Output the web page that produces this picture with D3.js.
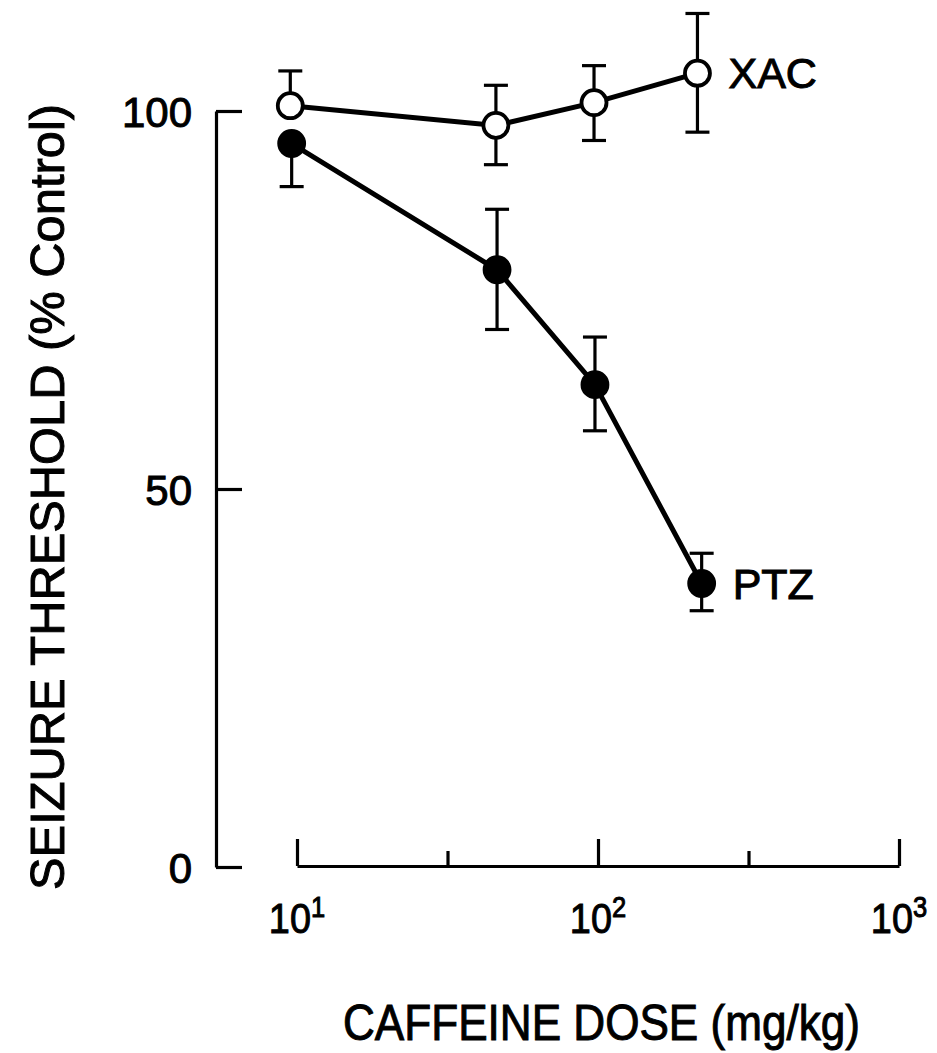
<!DOCTYPE html>
<html>
<head>
<meta charset="utf-8">
<script src="https://cdn.jsdelivr.net/npm/d3@7"></script>
<style>
  body { margin: 0; background: #fff; }
  svg text { font-family: "Liberation Sans", Arial, Helvetica, sans-serif; fill: #000; stroke: #000; stroke-width: 1; }
</style>
</head>
<body>
<div id="main"></div>
<script>
const ctx = {
    w: 937,
    h: 1053
};

// values
const xacDose = [9.5, 45.8, 97, 214];
const xacMean = [100.7, 98.1, 101.1, 105.0];
const xacErrUp = [4.6, 5.3, 4.9, 7.9];
const xacErrDown = [0, 5.2, 5.0, 7.8];

const ptzDose = [9.6, 46.2, 97.7, 221];
const ptzMean = [95.7, 79.0, 63.8, 37.5];
const ptzErrUp = [0, 8.0, 6.3, 4.0];
const ptzErrDown = [5.7, 7.9, 6.1, 3.6];

const yTicks = [0, 50, 100];
const xMajor = [10, 100, 1000];
const xMinor = [Math.pow(10, 1.5), Math.pow(10, 2.5)];
const xTickExp = ["1", "2", "3"];

function series(doses, means, up, down) {
    return doses.map((d, i) => ({ dose: d, mean: means[i], up: up[i], down: down[i] }));
}

function createViz() {
    const svgEl = d3.select("#main").append("svg")
        .attr("width", ctx.w)
        .attr("height", ctx.h);
    const rootG = svgEl.append("g").attr("id", "rootG");

    const x = d3.scaleLog().domain([10, 1000]).range([297, 899]);
    const y = d3.scaleLinear().domain([0, 100]).range([867, 111]);

    // y axis, ticks point inward
    const yAxis = rootG.append("g")
        .attr("transform", "translate(216,0)")
        .call(d3.axisLeft(y).tickValues(yTicks).tickSizeInner(-26).tickSizeOuter(0).tickPadding(24));
    yAxis.selectAll("path, line").attr("stroke", "#000").attr("stroke-width", 3.2);
    yAxis.selectAll("text").attr("font-size", 42).attr("dy", "0.36em")
        .attr("font-family", "Liberation Sans, Arial, sans-serif")
        .attr("stroke", "#000").attr("stroke-width", 1);

    // x axis (log), starts at 10^1
    const xAxis = rootG.append("g")
        .attr("transform", "translate(0,866)")
        .call(d3.axisBottom(x).tickValues(xMajor).tickSizeInner(-27).tickSizeOuter(0).tickFormat(() => ""));
    xAxis.selectAll("path, line").attr("stroke", "#000").attr("stroke-width", 3.2);

    const xMinorAxis = rootG.append("g")
        .attr("transform", "translate(0,866)")
        .call(d3.axisBottom(x).tickValues(xMinor).tickSizeInner(-15).tickSizeOuter(0).tickFormat(() => ""));
    xMinorAxis.select(".domain").remove();
    xMinorAxis.selectAll("line").attr("stroke", "#000").attr("stroke-width", 3.2);

    // 10^n labels
    const lab = rootG.append("g").selectAll("g")
        .data(xMajor)
        .enter().append("g")
        .attr("transform", d => `translate(${x(d)},933) scale(0.88,1)`);
    const t = lab.append("text").attr("text-anchor", "middle").attr("font-size", 43);
    t.append("tspan").text("10");
    t.append("tspan").attr("font-size", 29).attr("dy", -16).text((d, i) => xTickExp[i]);

    // axis titles
    rootG.append("text")
        .attr("transform", "translate(64,497) rotate(-90)")
        .attr("text-anchor", "middle")
        .attr("font-size", 49)
        .attr("textLength", 786)
        .attr("lengthAdjust", "spacingAndGlyphs")
        .text("SEIZURE THRESHOLD (% Control)");

    rootG.append("text")
        .attr("x", 343)
        .attr("y", 1040)
        .attr("font-size", 50)
        .attr("textLength", 517)
        .attr("lengthAdjust", "spacingAndGlyphs")
        .text("CAFFEINE DOSE (mg/kg)");

    const line = d3.line().x(d => x(d.dose)).y(d => y(d.mean));

    const groups = [
        { name: "XAC", fill: "#fff", data: series(xacDose, xacMean, xacErrUp, xacErrDown) },
        { name: "PTZ", fill: "#000", data: series(ptzDose, ptzMean, ptzErrUp, ptzErrDown) }
    ];

    groups.forEach(g => {
        const sg = rootG.append("g");
        sg.append("path")
            .datum(g.data)
            .attr("d", line)
            .attr("fill", "none")
            .attr("stroke", "#000")
            .attr("stroke-width", 5);

        // error bars
        const eb = sg.append("g").attr("stroke", "#000").attr("stroke-width", 3.2);
        g.data.forEach(d => {
            const cx = x(d.dose);
            if (d.up > 0) {
                eb.append("line").attr("x1", cx).attr("x2", cx).attr("y1", y(d.mean)).attr("y2", y(d.mean + d.up));
                eb.append("line").attr("x1", cx - 12).attr("x2", cx + 12).attr("y1", y(d.mean + d.up)).attr("y2", y(d.mean + d.up));
            }
            if (d.down > 0) {
                eb.append("line").attr("x1", cx).attr("x2", cx).attr("y1", y(d.mean)).attr("y2", y(d.mean - d.down));
                eb.append("line").attr("x1", cx - 12).attr("x2", cx + 12).attr("y1", y(d.mean - d.down)).attr("y2", y(d.mean - d.down));
            }
        });

        sg.selectAll("circle")
            .data(g.data)
            .enter().append("circle")
            .attr("cx", d => x(d.dose))
            .attr("cy", d => y(d.mean))
            .attr("r", 12.5)
            .attr("fill", g.fill)
            .attr("stroke", "#000")
            .attr("stroke-width", 3.8);

        const last = g.data[g.data.length - 1];
        sg.append("text")
            .attr("x", x(last.dose) + 31)
            .attr("y", y(last.mean) + 15)
            .attr("font-size", 43)
            .text(g.name);
    });
}

createViz();
</script>
</body>
</html>
